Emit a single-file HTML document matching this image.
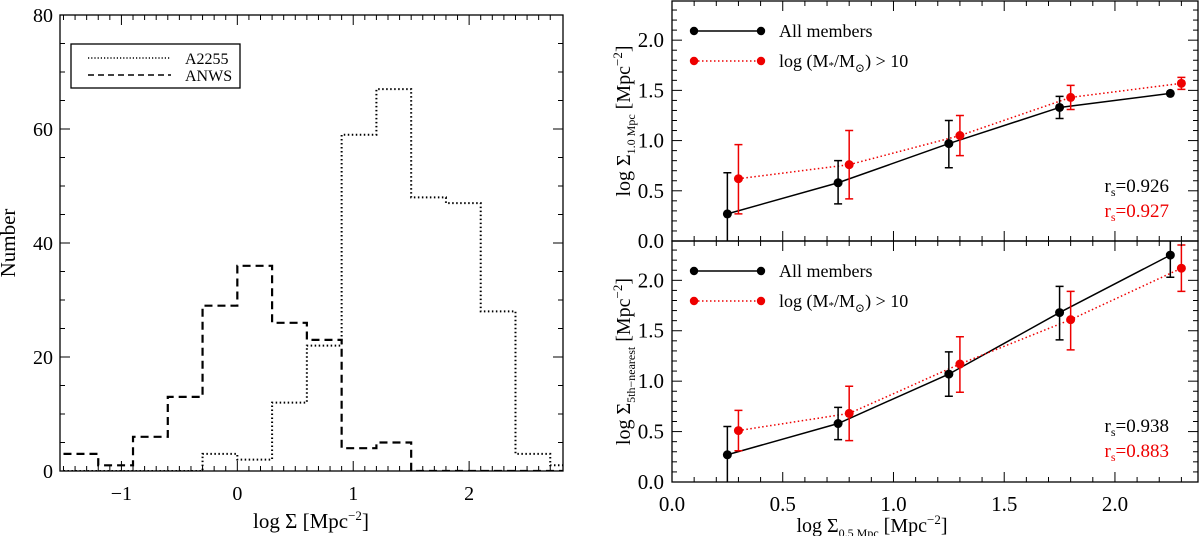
<!DOCTYPE html>
<html><head><meta charset="utf-8"><style>
html,body{margin:0;padding:0;background:#fff}
svg{display:block;font-family:"Liberation Serif","DejaVu Serif",serif}
</style></head><body>
<svg id="s" width="1203" height="536" xmlns="http://www.w3.org/2000/svg"></svg>
<script>
// ---- Left histogram data ----
const binEdges = [-1.5,-1.2,-0.9,-0.6,-0.3,0,0.3,0.6,0.9,1.2,1.5,1.8,2.1,2.4,2.7,3.0];
const anwsCounts = [3,1,6,13,29,36,26,23,4,5,0,0,0,0,0];
const a2255Counts = [0,0,0,0,3,2,12,22,59,67,48,47,28,3,1];
const histXTicks = [-1,0,1,2];
const histYTicks = [0,20,40,60,80];
// ---- Right panels data ----
const allX = [0.25,0.75,1.25,1.75,2.25];
const massX = [0.30,0.80,1.30,1.80,2.30];
const topAllY = [0.27,0.58,0.97,1.33,1.47];
const topAllLo = [-0.2,0.37,0.73,1.22,1.47];
const topAllHi = [0.68,0.80,1.20,1.44,1.47];
const topMassY = [0.62,0.76,1.05,1.43,1.57];
const topMassLo = [0.27,0.42,0.85,1.31,1.51];
const topMassHi = [0.96,1.10,1.25,1.55,1.63];
const botAllY = [0.27,0.58,1.07,1.68,2.25];
const botAllLo = [-0.1,0.42,0.85,1.41,2.03];
const botAllHi = [0.55,0.74,1.29,1.94,2.45];
const botMassY = [0.51,0.68,1.17,1.61,2.12];
const botMassLo = [0.31,0.41,0.89,1.31,1.89];
const botMassHi = [0.71,0.95,1.44,1.89,2.35];
const rightXTicks = [0,0.5,1.0,1.5,2.0];
const rightYTicks = [0,0.5,1.0,1.5,2.0];

const NS="http://www.w3.org/2000/svg";
const svg=document.getElementById('s');
function el(tag,attrs,parent){const e=document.createElementNS(NS,tag);for(const k in attrs)e.setAttribute(k,attrs[k]);(parent||svg).appendChild(e);return e;}
function txt(s,x,y,attrs,parent){const t=el('text',Object.assign({x:x,y:y,'font-size':20,fill:'#000'},attrs),parent);t.textContent=s;return t;}

// ===== Left panel =====
const L={x0:60,x1:563,y0:15,y1:471,xmin:-1.53,xmax:2.81,ymin:0,ymax:80};
const lx=v=>L.x0+(v-L.xmin)/(L.xmax-L.xmin)*(L.x1-L.x0);
const ly=v=>L.y1-(v-L.ymin)/(L.ymax-L.ymin)*(L.y1-L.y0);
const gL=el('g',{});


const clipL=el('clipPath',{id:'cl'});el('rect',{x:L.x0,y:L.y0,width:L.x1-L.x0,height:L.y1-L.y0},clipL);
function stepPath(counts){let d='';for(let i=0;i<counts.length;i++){const xa=lx(binEdges[i]),xb=lx(binEdges[i+1]),y=ly(counts[i]);d+=(i===0?'M':'L')+xa+','+y+'L'+xb+','+y;}return d;}
const pA=el('path',{d:stepPath(a2255Counts),fill:'none',stroke:'#000','stroke-width':2,'stroke-dasharray':'1.5,2.5','clip-path':'url(#cl)'},gL);


const pN=el('path',{d:stepPath(anwsCounts),fill:'none',stroke:'#000','stroke-width':2.2,'stroke-dasharray':'8,5','clip-path':'url(#cl)'},gL);


for(let v=-1.5;v<=2.8;v+=0.1){const vv=Math.round(v*10)/10;if(vv<L.xmin)continue;const x=lx(vv);const maj=Math.abs(vv-Math.round(vv))<1e-6;const len=maj?10:5;el('line',{x1:x,y1:L.y1,x2:x,y2:L.y1-len,stroke:'#000','stroke-width':1},gL);el('line',{x1:x,y1:L.y0,x2:x,y2:L.y0+len,stroke:'#000','stroke-width':1},gL);}
for(let v=0;v<=80;v+=5){const y=ly(v);const maj=v%20===0;const len=maj?10:5;el('line',{x1:L.x0,y1:y,x2:L.x0+len,y2:y,stroke:'#000','stroke-width':1},gL);el('line',{x1:L.x1,y1:y,x2:L.x1-len,y2:y,stroke:'#000','stroke-width':1},gL);}
histXTicks.forEach(v=>{const t=txt(v<0?'\u2212'+(-v):String(v),lx(v),500,{'text-anchor':'middle'},gL);});
histYTicks.forEach(v=>{const t=txt(String(v),53,ly(v)+7,{'text-anchor':'end'},gL);});
const fL=el('rect',{x:L.x0,y:L.y0,width:L.x1-L.x0,height:L.y1-L.y0,fill:'none',stroke:'#000','stroke-width':1.3},gL);


const xlL=el('text',{x:311,y:528,'font-size':21,'text-anchor':'middle'},gL);


xlL.innerHTML='log \u03A3 [Mpc<tspan dy="-8" font-size="13">\u22122</tspan><tspan dy="8">]</tspan>';
const ylL=txt('Number',0,0,{'font-size':21,'text-anchor':'middle',transform:'translate(15,243) rotate(-90)'},gL);


const lg=el('g',{},gL);


el('rect',{x:71,y:44,width:169,height:44,fill:'#fff',stroke:'#000','stroke-width':1.3},lg);
el('line',{x1:88,y1:58,x2:171,y2:58,stroke:'#000','stroke-width':1.5,'stroke-dasharray':'1.2,2'},lg);
el('line',{x1:88,y1:75,x2:171,y2:75,stroke:'#000','stroke-width':1.5,'stroke-dasharray':'6,4'},lg);
txt('A2255',185,64,{'font-size':16},lg);
txt('ANWS',185,81,{'font-size':16},lg);

// ===== Right panels =====
const R={x0:672,x1:1198,xmin:0,xmax:2.375};
const rx=v=>R.x0+(v-R.xmin)/(R.xmax-R.xmin)*(R.x1-R.x0);
function panel(name,y0,y1,ally,alllo,allhi,my,mlo,mhi,rsA,rsB,sub,showX){
  const ymin=0,ymax=2.39;
  const ry=v=>y1-(v-ymin)/(ymax-ymin)*(y1-y0);
  const g=el('g',{});
  
  
  const cid='c'+name;const cp=el('clipPath',{id:cid});el('rect',{x:R.x0,y:y0,width:R.x1-R.x0,height:y1-y0},cp);
  const cg=el('g',{'clip-path':'url(#'+cid+')'},g);
  for(let v=0;v<=2.4;v+=0.1){const vv=Math.round(v*10)/10;if(vv>R.xmax)break;const x=rx(vv);const maj=Math.abs(vv*2-Math.round(vv*2))<1e-6;const len=maj?10:5;el('line',{x1:x,y1:y1,x2:x,y2:y1-len,stroke:'#000'},g);el('line',{x1:x,y1:y0,x2:x,y2:y0+len,stroke:'#000'},g);}
  for(let v=0;v<=2.39;v+=0.1){const vv=Math.round(v*10)/10;const y=ry(vv);const maj=Math.abs(vv*2-Math.round(vv*2))<1e-6;const len=maj?10:5;el('line',{x1:R.x0,y1:y,x2:R.x0+len,y2:y,stroke:'#000'},g);el('line',{x1:R.x1,y1:y,x2:R.x1-len,y2:y,stroke:'#000'},g);}
  rightYTicks.forEach(v=>{const t=txt(v.toFixed(1),664,ry(v)+7,{'text-anchor':'end','font-size':21},g);});
  const la=el('polyline',{points:allX.map((x,i)=>rx(x)+','+ry(ally[i])).join(' '),fill:'none',stroke:'#000','stroke-width':1.5},cg);
  
  
  const lm=el('polyline',{points:massX.map((x,i)=>rx(x)+','+ry(my[i])).join(' '),fill:'none',stroke:'#e00','stroke-width':1.5,'stroke-dasharray':'1.5,2.5'},cg);
  
  
  function pts(xs,ys,lo,hi,col,nm){xs.forEach((x,i)=>{const X=rx(x);const eb=el('path',{d:'M'+X+','+ry(lo[i])+'L'+X+','+ry(hi[i])+'M'+(X-4)+','+ry(lo[i])+'L'+(X+4)+','+ry(lo[i])+'M'+(X-4)+','+ry(hi[i])+'L'+(X+4)+','+ry(hi[i]),stroke:col,'stroke-width':1.5,fill:'none'},cg);const c=el('circle',{cx:X,cy:ry(ys[i]),r:4.5,fill:col},cg);});}
  pts(allX,ally,alllo,allhi,'#000','all-members');
  pts(massX,my,mlo,mhi,'#e00','massive');
  const lg=el('g',{},g);
  
  
  const a=y0+30,b=y0+60;
  el('line',{x1:694,y1:a,x2:761,y2:a,stroke:'#000','stroke-width':1.5},lg);
  el('circle',{cx:694,cy:a,r:4.2,fill:'#000'},lg);el('circle',{cx:761,cy:a,r:4.2,fill:'#000'},lg);
  el('line',{x1:694,y1:b,x2:761,y2:b,stroke:'#e00','stroke-width':1.5,'stroke-dasharray':'1.5,2.5'},lg);
  el('circle',{cx:694,cy:b,r:4.2,fill:'#e00'},lg);el('circle',{cx:761,cy:b,r:4.2,fill:'#e00'},lg);
  txt('All members',779,a+6,{'font-size':18},lg);
  const t2=el('text',{x:779,y:b+6,'font-size':18},lg);
  t2.innerHTML='log (M<tspan font-size="11" dy="2">*</tspan><tspan dy="-2">/M</tspan><tspan font-size="12" dy="5">\u2299</tspan><tspan dy="-5">) &gt; 10</tspan>';
  const r1=el('text',{x:1169,y:y0+191,'font-size':19,'text-anchor':'end'},g);
  
  
  r1.innerHTML='r<tspan font-size="12" dy="4">s</tspan><tspan dy="-4">='+rsA+'</tspan>';
  const r2=el('text',{x:1169,y:y0+216,'font-size':19,'text-anchor':'end',fill:'#e00'},g);
  
  
  r2.innerHTML='r<tspan font-size="12" dy="4">s</tspan><tspan dy="-4">='+rsB+'</tspan>';
  const yl=el('text',{'font-size':20,'text-anchor':'middle',transform:'translate(630,'+((y0+y1)/2)+') rotate(-90)'},g);
  
  
  yl.innerHTML='log \u03A3<tspan font-size="12" dy="5">'+sub+'</tspan><tspan dy="-5"> [Mpc</tspan><tspan dy="-8" font-size="13">\u22122</tspan><tspan dy="8">]</tspan>';
  if(showX){rightXTicks.forEach(v=>{const t=txt(v.toFixed(1),rx(v),511,{'text-anchor':'middle','font-size':21},g);});
    const xl=el('text',{x:872,y:532,'font-size':20,'text-anchor':'middle'},g);
    
    
    xl.innerHTML='log \u03A3<tspan font-size="12" dy="5">0.5 Mpc</tspan><tspan dy="-5"> [Mpc</tspan><tspan dy="-8" font-size="13">\u22122</tspan><tspan dy="8">]</tspan>';}
  el('rect',{x:R.x0,y:y0,width:R.x1-R.x0,height:y1-y0,fill:'none',stroke:'#000','stroke-width':1.3},g);
}
panel('top-panel',1,241,topAllY,topAllLo,topAllHi,topMassY,topMassLo,topMassHi,'0.926','0.927','1.0 Mpc',false);
panel('bottom-panel',241,482,botAllY,botAllLo,botAllHi,botMassY,botMassLo,botMassHi,'0.938','0.883','5th\u2212nearest',true);
</script>
</body></html>
